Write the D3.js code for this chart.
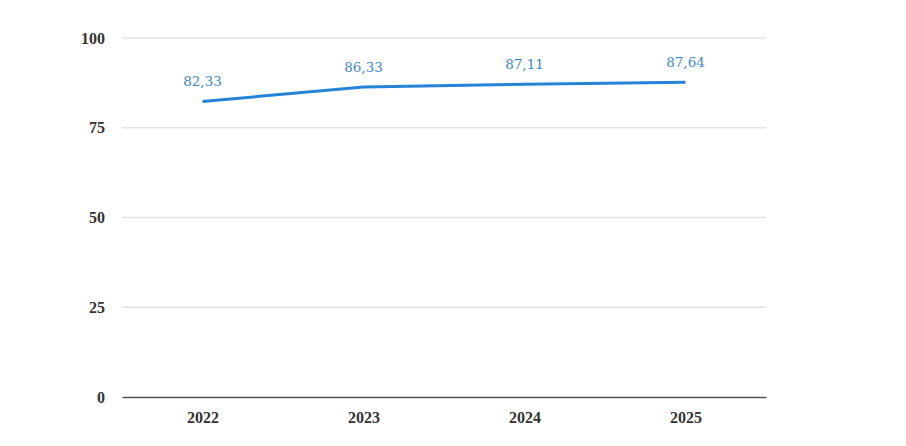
<!DOCTYPE html>
<html><head><meta charset="utf-8">
<script src="https://cdn.jsdelivr.net/npm/d3@7"></script>
<style>body{margin:0;background:#fff}svg{display:block}</style>
</head><body>
<script>
const categories = ["2022","2023","2024","2025"];
const values = [82.33, 86.33, 87.11, 87.64];
const yTicks = [0,25,50,75,100];

const W=906,H=446;
const svg=d3.select("body").append("svg").attr("width",W).attr("height",H);
const x=d3.scalePoint().domain(categories).range([122,766]).padding(0.5);
const y=d3.scaleLinear().domain([0,100]).range([397,38]);
const fmt=v=>v.toFixed(2).replace(".",",");

const font="'Liberation Serif','DejaVu Serif',serif";
const lfont="'DejaVu Serif',serif";
svg.append("g").selectAll("line").data(yTicks.filter(d=>d>0)).join("line")
  .attr("x1",122).attr("x2",766).attr("y1",d=>y(d)).attr("y2",d=>y(d))
  .attr("stroke","#e3e3e3").attr("stroke-width",1.5);

const ya=svg.append("g").attr("transform","translate(122,0)")
  .call(d3.axisLeft(y).tickValues(yTicks).tickSize(0).tickPadding(17));
ya.select(".domain").remove();
ya.selectAll("text").attr("font-family",font).attr("font-weight","bold").attr("font-size",16).attr("fill","#333");

const xa=svg.append("g").attr("transform","translate(0,397)")
  .call(d3.axisBottom(x).tickSize(0).tickPadding(15));
xa.select(".domain").attr("stroke","#555").attr("stroke-width",1.6);
xa.selectAll("text").attr("font-family",font).attr("font-weight","bold").attr("font-size",16).attr("fill","#333");

const line=d3.line().x((d,i)=>x(categories[i])).y(d=>y(d));
svg.append("path").datum(values).attr("d",line).attr("fill","none")
  .attr("stroke","#2583d8").attr("stroke-width",3);

svg.append("g").selectAll("text").data(values).join("text")
  .attr("x",(d,i)=>x(categories[i])).attr("y",d=>y(d)-15)
  .attr("text-anchor","middle").attr("font-family",lfont).attr("font-size",13.5)
  .attr("fill","#3f86c8").text(fmt);
</script>
</body></html>
